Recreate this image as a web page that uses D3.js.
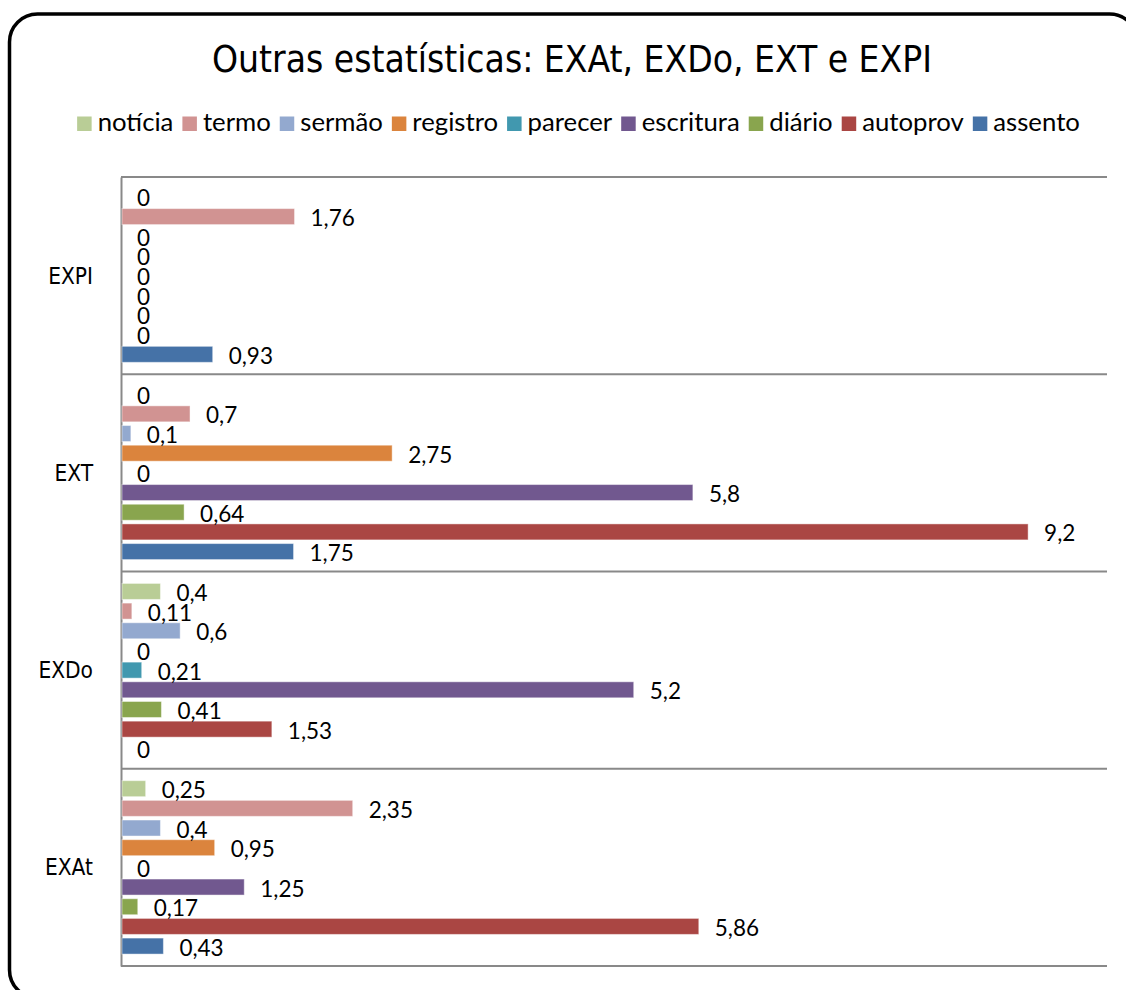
<!DOCTYPE html>
<html>
<head>
<meta charset="utf-8">
<script src="https://cdn.jsdelivr.net/npm/d3@7"></script>
<style>
  html, body { margin: 0; padding: 0; background: #fff; }
  svg { display: block; }
</style>
</head>
<body>
<svg id="chart" width="1126" height="990"></svg>
<script>
// Categories, bottom to top as in the source sheet
const categories = ["EXAt", "EXDo", "EXT", "EXPI"];

// Series names, in legend order (first series is drawn at the top of each group)
const seriesNames = ["notícia", "termo", "sermão", "registro", "parecer", "escritura", "diário", "autoprov", "assento"];

// Values per series, in category order [EXAt, EXDo, EXT, EXPI]
const noticia   = [0.25, 0.4, 0, 0];
const termo     = [2.35, 0.11, 0.7, 1.76];
const sermao    = [0.4, 0.6, 0.1, 0];
const registro  = [0.95, 0, 2.75, 0];
const parecer   = [0, 0.21, 0, 0];
const escritura = [1.25, 5.2, 5.8, 0];
const diario    = [0.17, 0.41, 0.64, 0];
const autoprov  = [5.86, 1.53, 9.2, 0];
const assento   = [0.43, 0, 1.75, 0.93];

const seriesValues = [noticia, termo, sermao, registro, parecer, escritura, diario, autoprov, assento];
const seriesColors = ["#B9CD96", "#D19392", "#93A9CF", "#DB843D", "#4198AF", "#71588F", "#89A54E", "#AA4643", "#4572A7"];

const xMax = 10;

const svg = d3.select("#chart");
const plot = { left: 121, right: 1107, top: 177, bottom: 966 };

const titleFont = "'DejaVu Sans Condensed', 'DejaVu Sans', sans-serif";
const bodyFont = "Lato, 'Open Sans', sans-serif";

// Outer rounded frame
svg.append("rect")
  .attr("x", 9.5).attr("y", 14)
  .attr("width", 1128).attr("height", 984)
  .attr("rx", 28).attr("ry", 28)
  .attr("fill", "#fff")
  .attr("stroke", "#000")
  .attr("stroke-width", 3.5);

// Title
const title = svg.append("text")
  .attr("x", 572).attr("y", 72)
  .attr("text-anchor", "middle")
  .attr("font-family", titleFont)
  .attr("font-size", 38)
  .attr("fill", "#000")
  .text("Outras estatísticas: EXAt, EXDo, EXT e EXPI");
{
  const w = title.node().getComputedTextLength();
  const target = 720;
  if (Math.abs(w - target) > 4) {
    title.attr("textLength", target).attr("lengthAdjust", "spacingAndGlyphs");
  }
}

// Scales
const x = d3.scaleLinear().domain([0, xMax]).range([plot.left, plot.right]);
const y0 = d3.scaleBand()
  .domain(categories.slice().reverse())
  .range([plot.top, plot.bottom])
  .padding(0);
const y1 = d3.scaleBand()
  .domain(seriesNames)
  .range([0, y0.bandwidth()])
  .paddingInner(0.187)
  .paddingOuter(0.606);

// Category gridlines (band boundaries)
const boundaries = categories.map(c => y0(c)).concat([plot.bottom]);
svg.append("g")
  .selectAll("line")
  .data(boundaries)
  .join("line")
  .attr("x1", plot.left).attr("x2", plot.right)
  .attr("y1", d => d).attr("y2", d => d)
  .attr("stroke", "#898989")
  .attr("stroke-width", 2);

// Category axis
const yAxis = d3.axisLeft(y0).tickSize(0).tickPadding(28);
const yAxisG = svg.append("g")
  .attr("transform", `translate(${plot.left},0)`)
  .call(yAxis);
yAxisG.select(".domain")
  .attr("stroke", "#898989")
  .attr("stroke-width", 2);
yAxisG.selectAll("text")
  .attr("font-family", titleFont)
  .attr("font-size", 22.5)
  .attr("fill", "#000")
  .attr("dy", "0.36em");

// Bars and value labels
const rows = [];
seriesNames.forEach((s, i) => {
  categories.forEach((c, j) => {
    rows.push({ series: s, color: seriesColors[i], cat: c, value: seriesValues[i][j] });
  });
});

const fmt = v => String(v).replace(".", ",");

svg.append("g")
  .selectAll("rect")
  .data(rows)
  .join("rect")
  .attr("x", x(0) + 1)
  .attr("y", d => y0(d.cat) + y1(d.series))
  .attr("width", d => Math.max(0, x(d.value) - x(0) - 1))
  .attr("height", y1.bandwidth())
  .attr("fill", d => d.color)
  .attr("stroke", d => d.value > 0 ? "rgba(255,255,255,0.45)" : "none")
  .attr("stroke-width", 1);

svg.append("g")
  .selectAll("text")
  .data(rows)
  .join("text")
  .attr("x", d => x(d.value) + 16)
  .attr("y", d => y0(d.cat) + y1(d.series) + y1.bandwidth() / 2 + 9.5)
  .attr("font-family", bodyFont)
  .attr("font-size", 22.5)
  .attr("fill", "#000")
  .text(d => fmt(d.value));

// Legend, fitted to the width of the title row
const legend = svg.append("g");
const sq = 14.5, gapSq = 6, gapItem = 9;
const legendTarget = 1003;
const items = legend.selectAll("g")
  .data(seriesNames.map((s, i) => ({ name: s, color: seriesColors[i] })))
  .join("g");
items.append("rect")
  .attr("width", sq).attr("height", sq)
  .attr("y", 116.5)
  .attr("fill", d => d.color);
const labels = items.append("text")
  .attr("x", sq + gapSq)
  .attr("y", 131)
  .attr("font-family", bodyFont)
  .attr("font-size", 24)
  .attr("fill", "#000")
  .text(d => d.name);

function measure() {
  const ws = [];
  labels.each(function() { ws.push(this.getComputedTextLength()); });
  return ws;
}
let widths = measure();
const fixed = seriesNames.length * (sq + gapSq) + (seriesNames.length - 1) * gapItem;
const fitted = 24 * (legendTarget - fixed) / d3.sum(widths);
labels.attr("font-size", Math.min(27, fitted));
widths = measure();
const total = d3.sum(widths) + fixed;
let cx = 578.5 - total / 2;
items.attr("transform", (d, i) => {
  const t = `translate(${cx},0)`;
  cx += sq + gapSq + widths[i] + gapItem;
  return t;
});
</script>
</body>
</html>
